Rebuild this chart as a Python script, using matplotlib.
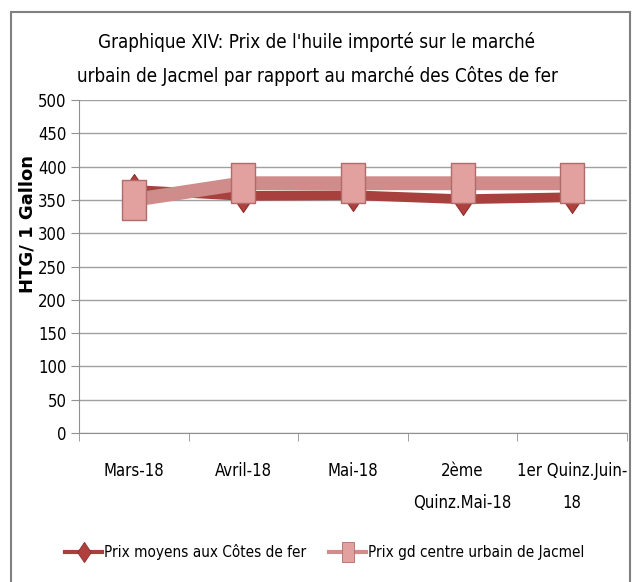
import matplotlib
matplotlib.use("Agg")
import matplotlib.pyplot as plt
from matplotlib.lines import Line2D
from matplotlib.patches import Rectangle
import numpy as np

# Graphique XIV: huile importée, Côtes de fer vs Jacmel
CATEGORIES = ["Mars-18", "Avril-18", "Mai-18", "2ème\nQuinz.Mai-18", "1er Quinz.Juin-\n18"]
COTES_DE_FER = [365, 356, 357, 351, 354]
JACMEL = [350, 375, 375, 375, 375]
Y_TICKS = list(range(0, 501, 50))

TITLE = ("Graphique XIV: Prix de l'huile importé sur le marché\n"
         "urbain de Jacmel par rapport au marché des Côtes de fer")
LABEL_1 = "Prix moyens aux Côtes de fer"
LABEL_2 = "Prix gd centre urbain de Jacmel"

plt.rcParams["font.family"] = ["DejaVu Sans"]
plt.rcParams["font.stretch"] = "condensed"

DARK = "#A8403E"
PINK = "#D08C8A"
DIAMOND_STYLE = dict(mfc="#B0403E", mec="#8E2E2C")
SQUARE_STYLE = dict(mfc="#E2A09E", mec="#B06C6A")

# tall markers (the original picture is squeezed horizontally)
SQUARE = [(-0.6, -1), (0.6, -1), (0.6, 1), (-0.6, 1), (-0.6, -1)]
DIAMOND = [(0, 1), (0.68, 0), (0, -1), (-0.68, 0), (0, 1)]

W, H = 634, 582
fig = plt.figure(figsize=(W / 100, H / 100), dpi=100)
ax = fig.add_axes([79 / W, 1 - 433 / H, (627 - 79) / W, (433 - 100) / H])

x = np.arange(len(CATEGORIES))
ax.plot(x, COTES_DE_FER, color=DARK, lw=7, marker=DIAMOND, ms=23, mew=0.8,
        zorder=3, solid_joinstyle="miter", **DIAMOND_STYLE)
ax.plot(x, JACMEL, color=PINK, lw=10, marker=SQUARE, ms=29.5, mew=1.0,
        zorder=4, solid_joinstyle="miter", **SQUARE_STYLE)

ax.set_ylim(0, 500)
ax.set_yticks(Y_TICKS)
ax.set_xlim(-0.5, len(CATEGORIES) - 0.5)
ax.set_xticks(x)
ax.set_xticklabels(CATEGORIES, linespacing=2.0)
ax.set_xticks(np.arange(-0.5, len(CATEGORIES)), minor=True)

ax.grid(axis="y", color="#A0A0A0", lw=1)
ax.set_axisbelow(True)
for side in ["top", "right"]:
    ax.spines[side].set_visible(False)
for side in ["left", "bottom"]:
    ax.spines[side].set_color("#909090")

ax.tick_params(axis="y", length=6, color="#909090", labelsize=12, pad=3)
ax.tick_params(axis="x", which="major", length=0, labelsize=12, pad=21)
ax.tick_params(axis="x", which="minor", length=6, color="#909090")

fig.text(0.5, 1 - 59 / H, TITLE, ha="center", va="center", fontsize=13.5,
         linespacing=1.85)
fig.text(28 / W, 1 - 224 / H, "HTG/ 1 Gallon", rotation=90, ha="center",
         va="center", fontsize=13, fontweight="bold", stretch="normal")

# legend keys are smaller than the plotted markers
handles = [
    Line2D([], [], color=DARK, lw=3, marker=DIAMOND, ms=14.5, mew=0.6, **DIAMOND_STYLE),
    Line2D([], [], color=PINK, lw=3, marker=SQUARE, ms=14.5, mew=0.6, **SQUARE_STYLE),
]
fig.legend(handles, [LABEL_1, LABEL_2], loc="center",
           bbox_to_anchor=(325 / W, 1 - 552 / H), ncol=2, frameon=False,
           fontsize=11, handlelength=2.4, handletextpad=0.15, columnspacing=1.5)

# chart border (open at the bottom, like the cropped original)
fig.patches.append(Rectangle((11 / W, -0.05), (630 - 11) / W, 1.05 - 12 / H,
                             transform=fig.transFigure, fill=False,
                             edgecolor="#808080", lw=1.5))

fig.savefig("out.png", dpi=100)
